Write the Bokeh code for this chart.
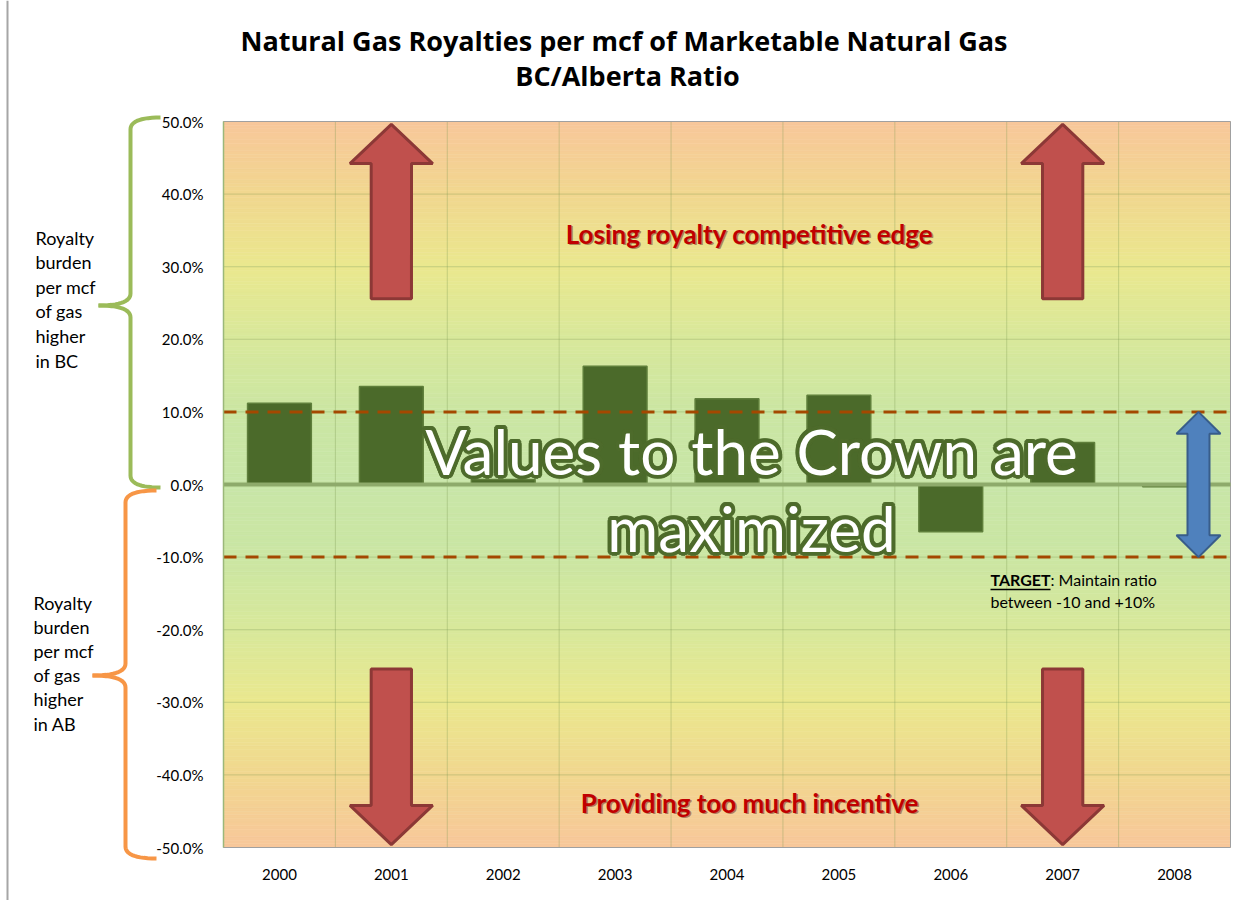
import numpy as np
from bokeh.plotting import figure
from bokeh.models import (Range1d, FixedTicker, PrintfTickFormatter, CustomJSTickFormatter,
                          LinearAxis, ColumnDataSource)
from bokeh.core.properties import value
from bokeh.embed import file_html
from bokeh.resources import INLINE

# ---------------- data ----------------
years = ["2000", "2001", "2002", "2003", "2004", "2005", "2006", "2007", "2008"]
ratio_pct = [11.2, 13.5, 0.7, 16.3, 11.8, 12.3, -6.5, 5.8, -0.3]
y_ticks = [-50, -40, -30, -20, -10, 0, 10, 20, 30, 40, 50]
target_band = [-10, 10]
title_lines = ["Natural Gas Royalties per  mcf of Marketable Natural Gas", "BC/Alberta Ratio"]
bc_lines = ["Royalty", "burden", "per mcf", "of gas", "higher", "in BC"]
ab_lines = ["Royalty", "burden", "per mcf", "of gas", "higher", "in AB"]
big_lines = ["Values to the Crown are", "maximized"]
top_msg = "Losing royalty competitive edge"
bottom_msg = "Providing too much incentive"

FONT = "Lato"

# ---------------- geometry (page pixels) ----------------
W, H = 1245, 900
PAGE_X0, PAGE_Y0 = 0, 0
PLOT_X0, PLOT_X1 = 223, 1230        # plot area left/right
PLOT_Y_TOP, PLOT_Y_BOT = 121, 847   # +50% / -50%
PXP = (PLOT_Y_BOT - PLOT_Y_TOP) / 100.0
ZERO_Y = PLOT_Y_TOP + 50 * PXP
NCAT = len(years)
PX_CAT = (PLOT_X1 - PLOT_X0) / NCAT


def pct(ypage):
    return (ZERO_Y - ypage) / PXP


def cat(xpage):
    return (xpage - PLOT_X0) / PX_CAT


p = figure(width=W, height=H,
           x_range=Range1d(PAGE_X0, PAGE_X0 + W),
           y_range=Range1d(pct(PAGE_Y0 + H), pct(PAGE_Y0)),
           x_axis_location=None, y_axis_location=None,
           toolbar_location=None, output_backend="svg", min_border=0)
p.extra_x_ranges = {"cat": Range1d(cat(PAGE_X0), cat(PAGE_X0 + W))}
p.grid.visible = False
p.outline_line_color = None
p.background_fill_color = "white"
p.border_fill_color = "white"

# ---------------- gradient background ----------------
stops_v = [0, 10, 20, 30, 40, 50]
stops_c = ["#C8E6A8", "#CBE6A3", "#D8E89B", "#EAE88E", "#F1D78F", "#F8C79A"]
rgb = np.array([[int(c[i:i + 2], 16) for i in (1, 3, 5)] for c in stops_c], dtype=float)
edges = np.arange(-50, 50.5, 0.5)
mids = (edges[:-1] + edges[1:]) / 2
cols = []
for m in mids:
    a = abs(m)
    cc = [np.interp(a, stops_v, rgb[:, k]) for k in range(3)]
    cols.append("#%02x%02x%02x" % tuple(int(round(v)) for v in cc))
p.quad(left=0, right=NCAT, bottom=edges[:-1], top=edges[1:], fill_color=cols, line_color=cols,
       line_width=0.6, level="image", x_range_name="cat")

# ---------------- grid lines ----------------
vg = list(range(1, NCAT))
p.segment(x0=vg, x1=vg, y0=min(y_ticks), y1=max(y_ticks), line_color="#7E9A52", line_alpha=0.35,
          line_width=1, x_range_name="cat", level="underlay")
hg = [t for t in y_ticks if t not in (-50, 50)]
p.segment(x0=0, x1=NCAT, y0=hg, y1=hg, line_color="#7E9A52", line_alpha=0.35,
          line_width=1, x_range_name="cat", level="underlay")
# plot area border
p.quad(left=0, right=NCAT, bottom=min(y_ticks), top=max(y_ticks), fill_color=None,
       line_color="#A0A0A0", line_width=1, x_range_name="cat", level="underlay")

# ---------------- axes (fixed at plot-area edges) ----------------
xc = [i + 0.5 for i in range(NCAT)]
xax = LinearAxis(x_range_name="cat", fixed_location=min(y_ticks),
                 ticker=FixedTicker(ticks=xc), bounds=(0, NCAT),
                 formatter=CustomJSTickFormatter(args=dict(years=years),
                                                 code="return years[Math.floor(tick)] || '';"))
yax = LinearAxis(x_range_name="cat", fixed_location=0, ticker=FixedTicker(ticks=y_ticks),
                 bounds=(min(y_ticks), max(y_ticks)),
                 formatter=PrintfTickFormatter(format="%.1f%%"))
for ax in (xax, yax):
    ax.major_tick_line_color = None
    ax.minor_tick_line_color = None
    ax.major_label_text_font = FONT
    ax.major_label_text_font_size = "15px"
    ax.major_label_text_color = "#000000"
xax.axis_line_color = None
yax.axis_line_color = "#9BB87A"
yax.axis_line_width = 1.5
xax.major_label_standoff = 15
yax.major_label_standoff = 14
p.add_layout(xax, "below")
p.add_layout(yax, "left")

# ---------------- bars ----------------
src = ColumnDataSource(dict(x=xc, top=ratio_pct, year=years))
p.vbar(x="x", top="top", bottom=0, width=0.57, source=src, x_range_name="cat",
       fill_color="#4B6A2A", line_color="#5F7F3B", line_width=1.5)

# zero line & target lines
p.segment(x0=0, x1=NCAT, y0=0, y1=0, line_color="#8EAA6B", line_width=4, x_range_name="cat")
p.segment(x0=0, x1=NCAT, y0=target_band, y1=target_band, line_color="#A44800", line_width=3,
          line_dash="13 9", x_range_name="cat")


# ---------------- red arrows ----------------
def up_arrow(x0, y_base, y_head, y_tip, hs, hh):
    xs = [x0 - hs, x0 - hs, x0 - hh, x0, x0 + hh, x0 + hs, x0 + hs]
    ys = [y_base, y_head, y_head, y_tip, y_head, y_head, y_base]
    return xs, ys


axs, ays = [], []
for xcen in (1.5, 7.5):
    a, b = up_arrow(xcen, 25.6, 44.2, 49.6, 0.18, 0.37)
    axs.append(a); ays.append(b)
    a, b = up_arrow(xcen, -25.4, -44.2, -49.6, 0.18, 0.37)
    axs.append(a); ays.append(b)
p.patches(axs, ays, fill_color="#C0504D", line_color="#8C3836", line_width=3, x_range_name="cat")

# blue double arrow
xb = 1198
hs, hh = 11, 22
bx = [xb, xb + hh, xb + hs, xb + hs, xb + hh, xb, xb - hh, xb - hs, xb - hs, xb - hh]
by = [10, 7, 7, -7, -7, -10, -7, -7, 7, 7]
p.patch(bx, by, fill_color="#4F81BD", line_color="#385D8A", line_width=2)

# ---------------- big outlined text ----------------
xbig = 751
ybig = [pct(450), pct(527)]
for ang in np.linspace(0, 2 * np.pi, 20, endpoint=False):
    p.text(x=[xbig] * 2, y=ybig, text=big_lines, x_offset=4 * np.cos(ang), y_offset=4 * np.sin(ang),
           text_font=value(FONT), text_font_size="62px", text_color="#4E6B2C", text_alpha=0.85,
           text_align="center", text_baseline="middle")
p.text(x=[xbig] * 2, y=ybig, text=big_lines, text_font=value(FONT), text_font_size="62px",
       text_color="#FFFFFF", text_align="center", text_baseline="middle")

# red messages with shadow
xm = 749
ym = [pct(233), pct(802)]
p.text(x=[xm] * 2, y=ym, text=[top_msg, bottom_msg], x_offset=1.5, y_offset=1.5,
       text_font=value(FONT), text_font_size="26px", text_font_style="bold",
       text_color="#5A1010", text_alpha=0.45, text_align="center", text_baseline="middle")
p.text(x=[xm] * 2, y=ym, text=[top_msg, bottom_msg],
       text_font=value(FONT), text_font_size="26px", text_font_style="bold",
       text_color="#C00000", text_align="center", text_baseline="middle")

# target note
xt = 990
p.text(x=[xt], y=[pct(579)], text=["TARGET"], text_font=value(FONT), text_font_size="16px",
       text_font_style="bold", text_color="#000000", text_align="left", text_baseline="middle")
p.text(x=[xt + 60], y=[pct(579)], text=[":  Maintain  ratio"], text_font=value(FONT),
       text_font_size="16px", text_color="#000000", text_align="left", text_baseline="middle")
p.text(x=[xt], y=[pct(601)], text=["between -10 and +10%"], text_font=value(FONT),
       text_font_size="16px", text_color="#000000", text_align="left", text_baseline="middle")
p.segment(x0=[xt], y0=[pct(589)], x1=[xt + 60], y1=[pct(589)], line_color="#000000",
          line_width=1.3)

# ---------------- title ----------------
p.text(x=[627] * 2, y=[pct(40), pct(75)], text=title_lines, text_font=value("Open Sans"),
       text_font_size="27px", text_font_style="bold", text_color="#000000",
       text_align="center", text_baseline="middle")


# ---------------- braces + side labels ----------------
def qbez(p0, p1, p2, n=14):
    t = np.linspace(0, 1, n)
    x = (1 - t) ** 2 * p0[0] + 2 * (1 - t) * t * p1[0] + t ** 2 * p2[0]
    y = (1 - t) ** 2 * p0[1] + 2 * (1 - t) * t * p1[1] + t ** 2 * p2[1]
    return x, y


def brace(x_end, x_sp, x_tip, y_top, y_mid, y_bot, r=12):
    parts = []
    for segs in ([((x_end, y_top), (x_sp, y_top), (x_sp, y_top + r)),
                  ((x_sp, y_mid - r), (x_sp, y_mid), (x_tip, y_mid))],
                 [((x_tip, y_mid), (x_sp, y_mid), (x_sp, y_mid + r)),
                  ((x_sp, y_bot - r), (x_sp, y_bot), (x_end, y_bot))]):
        xs, ys = [], []
        for s in segs:
            a, b = qbez(*s)
            xs += list(a); ys += [pct(v) for v in b]
        parts.append((xs, ys))
    return parts


for (bxs, bys) in brace(160, 130, 98, 117, 305, 487):
    p.line(bxs, bys, line_color="#9BBB59", line_width=4)
for (bxs, bys) in brace(156, 125, 92, 490, 675, 858):
    p.line(bxs, bys, line_color="#F79646", line_width=4)

p.text(x=[35] * len(bc_lines), y=[pct(237 + 24.6 * i) for i in range(len(bc_lines))], text=bc_lines,
       text_font=value(FONT), text_font_size="18px", text_color="#000000",
       text_align="left", text_baseline="middle")
p.text(x=[33] * len(ab_lines), y=[pct(602 + 24.2 * i) for i in range(len(ab_lines))], text=ab_lines,
       text_font=value(FONT), text_font_size="18px", text_color="#000000",
       text_align="left", text_baseline="middle")

# page edge line
p.segment(x0=[7], y0=[pct(PAGE_Y0)], x1=[7], y1=[pct(PAGE_Y0 + H)], line_color="#A6A6A6", line_width=2)

open("out.html", "w").write(file_html(p, INLINE))
